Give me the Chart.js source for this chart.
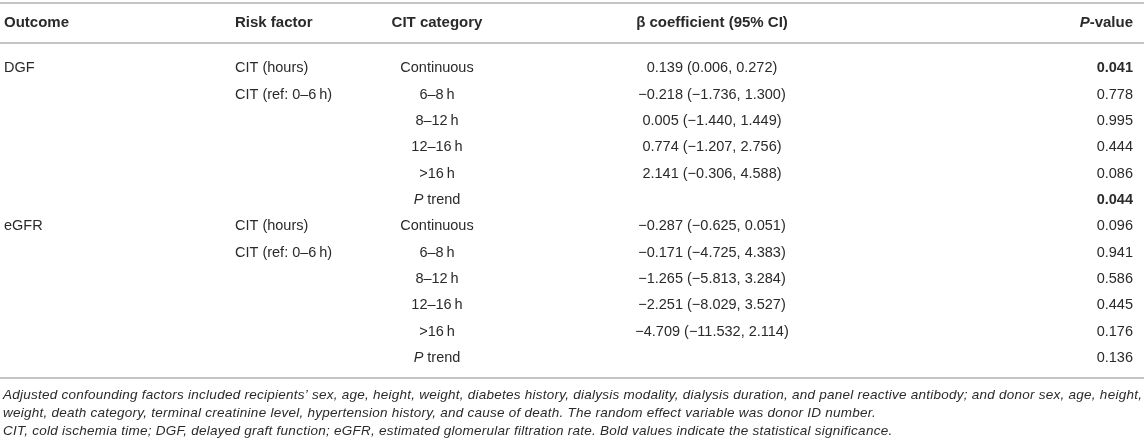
<!DOCTYPE html>
<html>
<head>
<meta charset="utf-8">
<script src="https://cdn.jsdelivr.net/npm/chart.js@4.4.1/dist/chart.umd.min.js"></script>
<style>
    html, body { margin: 0; padding: 0; background: #ffffff; }
    #wrap { width: 1144px; height: 445px; position: relative; }
</style>
</head>
<body>
<div id="wrap"><canvas id="table"></canvas></div>
<script>
// Datos de la tabla (una fila por entrada). _P_ = P en cursiva
const headers = ['Outcome', 'Risk factor', 'CIT category', 'β coefficient (95% CI)', '_P_-value'];

const outcomes = ['DGF', '', '', '', '', '', 'eGFR', '', '', '', '', ''];
const riskFactors = [
    'CIT (hours)', 'CIT (ref: 0–6\u2009h)', '', '', '', '',
    'CIT (hours)', 'CIT (ref: 0–6\u2009h)', '', '', '', ''
];
const citCategories = [
    'Continuous', '6–8\u2009h', '8–12\u2009h', '12–16\u2009h', '>16\u2009h', '_P_ trend',
    'Continuous', '6–8\u2009h', '8–12\u2009h', '12–16\u2009h', '>16\u2009h', '_P_ trend'
];
const betaCoefficients = [
    '0.139 (0.006, 0.272)',
    '−0.218 (−1.736, 1.300)',
    '0.005 (−1.440, 1.449)',
    '0.774 (−1.207, 2.756)',
    '2.141 (−0.306, 4.588)',
    '',
    '−0.287 (−0.625, 0.051)',
    '−0.171 (−4.725, 4.383)',
    '−1.265 (−5.813, 3.284)',
    '−2.251 (−8.029, 3.527)',
    '−4.709 (−11.532, 2.114)',
    ''
];
const pValues = ['0.041', '0.778', '0.995', '0.444', '0.086', '0.044',
                 '0.096', '0.941', '0.586', '0.445', '0.176', '0.136'];

const footnotes = [
    'Adjusted confounding factors included recipients’ sex, age, height, weight, diabetes history, dialysis modality, dialysis duration, and panel reactive antibody; and donor sex, age, height,',
    'weight, death category, terminal creatinine level, hypertension history, and cause of death. The random effect variable was donor ID number.',
    'CIT, cold ischemia time; DGF, delayed graft function; eGFR, estimated glomerular filtration rate. Bold values indicate the statistical significance.'
];

// Layout de columnas (anclas horizontales)
const columnLayout = [
    { x: 4, align: 'left' },
    { x: 235, align: 'left' },
    { x: 437, align: 'center' },
    { x: 712, align: 'center' },
    { x: 1133, align: 'right' }
];

const FONT = '"Liberation Sans", Arial, Helvetica, sans-serif';
const TEXT_COLOR = '#2a2a2a';
const RULE_COLOR = '#c4c4c4';

const rowKeys = pValues.map((_, i) => 'r' + i);

// Partir texto en segmentos normales / cursiva
function parseRich(text) {
    const parts = text.split('_');
    return parts.map((t, i) => ({ text: t, italic: i % 2 === 1 })).filter(p => p.text.length);
}

function drawRich(ctx, text, x, y, align, size, bold, italicAll) {
    const segs = parseRich(text);
    const fontFor = seg => `${(seg.italic || italicAll) ? 'italic ' : ''}${bold ? 'bold ' : ''}${size}px ${FONT}`;
    let total = 0;
    segs.forEach(seg => {
        ctx.font = fontFor(seg);
        seg.w = ctx.measureText(seg.text).width;
        total += seg.w;
    });
    let cx = x;
    if (align === 'center') cx = x - total / 2;
    else if (align === 'right') cx = x - total;
    ctx.textAlign = 'left';
    ctx.textBaseline = 'middle';
    segs.forEach(seg => {
        ctx.font = fontFor(seg);
        ctx.fillText(seg.text, cx, y);
        cx += seg.w;
    });
}

// Construir un dataset por columna
function buildColumn(texts, col, boldFn) {
    const points = [];
    const labels = [];
    const bolds = [];
    texts.forEach((t, i) => {
        if (!t) return;
        points.push({ x: columnLayout[col].x, y: rowKeys[i] });
        labels.push(t);
        bolds.push(boldFn ? boldFn(t) : false);
    });
    return {
        data: points,
        texts: labels,
        bolds: bolds,
        align: columnLayout[col].align,
        pointRadius: 0,
        showLine: false
    };
}

const tablePlugin = {
    id: 'tablePlugin',
    afterDatasetsDraw(chart) {
        const ctx = chart.ctx;
        const yScale = chart.scales.y;
        const area = chart.chartArea;
        const firstRow = yScale.getPixelForValue(0);
        const lastRow = yScale.getPixelForValue(rowKeys.length - 1);

        ctx.save();
        ctx.fillStyle = TEXT_COLOR;

        // Celdas
        chart.data.datasets.forEach((ds, i) => {
            const meta = chart.getDatasetMeta(i);
            meta.data.forEach((pt, j) => {
                drawRich(ctx, ds.texts[j], pt.x, pt.y, ds.align, 14.5, ds.bolds[j], false);
            });
        });

        // Encabezados
        headers.forEach((h, i) => {
            drawRich(ctx, h, columnLayout[i].x, firstRow - 45, columnLayout[i].align, 15, true, false);
        });

        // Líneas horizontales
        ctx.strokeStyle = RULE_COLOR;
        ctx.lineWidth = 2;
        [firstRow - 65, firstRow - 25, lastRow + 20].forEach(y => {
            ctx.beginPath();
            ctx.moveTo(area.left, Math.round(y));
            ctx.lineTo(area.right, Math.round(y));
            ctx.stroke();
        });

        // Notas al pie
        ctx.fillStyle = TEXT_COLOR;
        ctx.letterSpacing = '0.25px';
        footnotes.forEach((f, i) => {
            drawRich(ctx, f, 3, lastRow + 37 + i * 18, 'left', 13.5, false, true);
        });
        ctx.letterSpacing = '0px';
        ctx.restore();
    }
};

const isSignificant = t => parseFloat(t) < 0.05;

const datasets = [
    buildColumn(outcomes, 0),
    buildColumn(riskFactors, 1),
    buildColumn(citCategories, 2),
    buildColumn(betaCoefficients, 3),
    buildColumn(pValues, 4, isSignificant)
];

new Chart(document.getElementById('table'), {
    type: 'scatter',
    data: { datasets: datasets },
    options: {
        responsive: true,
        maintainAspectRatio: false,
        animation: false,
        events: [],
        layout: { padding: { top: 55, bottom: 74, left: 0, right: 0 } },
        plugins: {
            legend: { display: false },
            tooltip: { enabled: false }
        },
        scales: {
            x: { type: 'linear', min: 0, max: 1144, display: false },
            y: { type: 'category', labels: rowKeys, offset: true, display: false }
        }
    },
    plugins: [tablePlugin]
});
</script>
</body>
</html>
